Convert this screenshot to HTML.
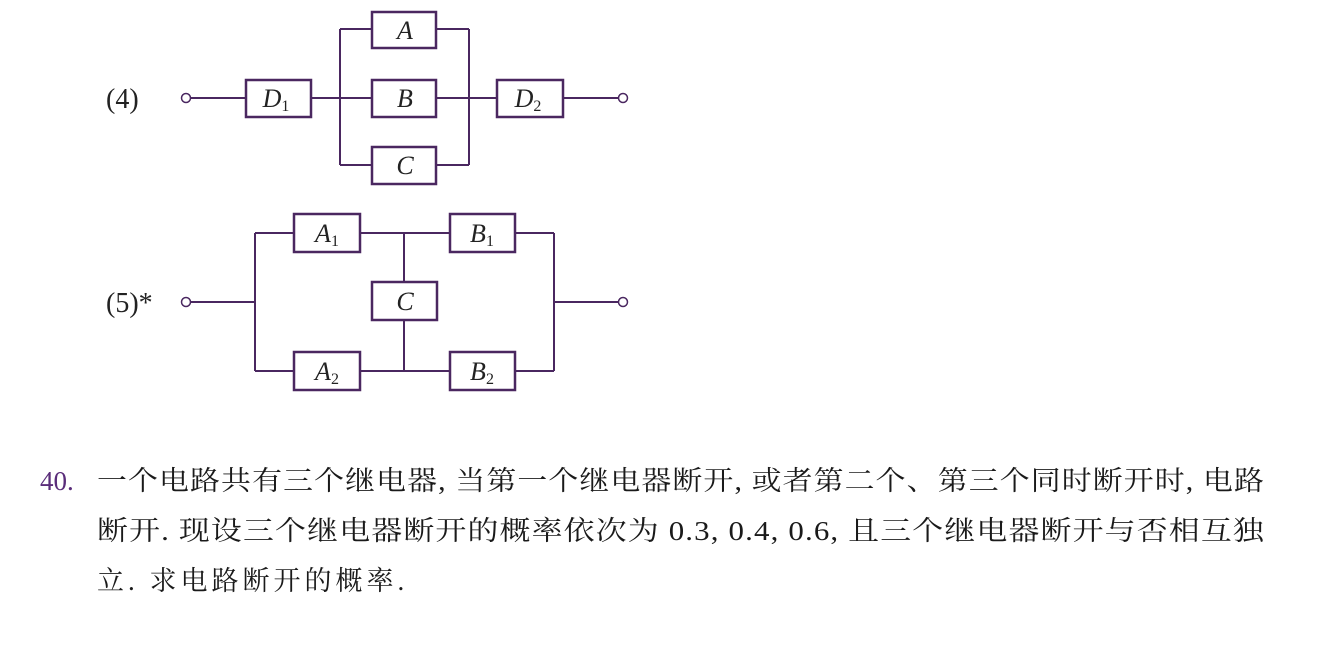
<!DOCTYPE html>
<html><head><meta charset="utf-8"><style>
html,body{margin:0;padding:0;background:#fff;}
svg{display:block;}
</style></head><body>
<svg width="1330" height="646" viewBox="0 0 1330 646" xmlns="http://www.w3.org/2000/svg">
<g stroke="#4a2760" stroke-width="2" fill="none">
<line x1="190" y1="98" x2="246" y2="98"/>
<line x1="311" y1="98" x2="372" y2="98"/>
<line x1="436" y1="98" x2="497" y2="98"/>
<line x1="563" y1="98" x2="619" y2="98"/>
<line x1="340" y1="29" x2="340" y2="165"/>
<line x1="469" y1="29" x2="469" y2="165"/>
<line x1="340" y1="29" x2="372" y2="29"/>
<line x1="436" y1="29" x2="469" y2="29"/>
<line x1="340" y1="165" x2="372" y2="165"/>
<line x1="436" y1="165" x2="469" y2="165"/>
<rect x="246" y="80" width="65" height="37" stroke-width="2.5" fill="#fff"/>
<rect x="372" y="12" width="64" height="36" stroke-width="2.5" fill="#fff"/>
<rect x="372" y="80" width="64" height="37" stroke-width="2.5" fill="#fff"/>
<rect x="372" y="147" width="64" height="37" stroke-width="2.5" fill="#fff"/>
<rect x="497" y="80" width="66" height="37" stroke-width="2.5" fill="#fff"/>
<circle cx="186" cy="98" r="4.5" fill="#fff" stroke-width="1.5"/>
<circle cx="623" cy="98" r="4.5" fill="#fff" stroke-width="1.5"/>
<line x1="190" y1="302" x2="255" y2="302"/>
<line x1="255" y1="233" x2="255" y2="371"/>
<line x1="255" y1="233" x2="294" y2="233"/>
<line x1="255" y1="371" x2="294" y2="371"/>
<line x1="360" y1="233" x2="450" y2="233"/>
<line x1="360" y1="371" x2="450" y2="371"/>
<line x1="404" y1="233" x2="404" y2="371"/>
<line x1="515" y1="233" x2="554" y2="233"/>
<line x1="515" y1="371" x2="554" y2="371"/>
<line x1="554" y1="233" x2="554" y2="371"/>
<line x1="554" y1="302" x2="619" y2="302"/>
<rect x="294" y="214" width="66" height="38" stroke-width="2.5" fill="#fff"/>
<rect x="450" y="214" width="65" height="38" stroke-width="2.5" fill="#fff"/>
<rect x="372" y="282" width="65" height="38" stroke-width="2.5" fill="#fff"/>
<rect x="294" y="352" width="66" height="38" stroke-width="2.5" fill="#fff"/>
<rect x="450" y="352" width="65" height="38" stroke-width="2.5" fill="#fff"/>
<circle cx="186" cy="302" r="4.5" fill="#fff" stroke-width="1.5"/>
<circle cx="623" cy="302" r="4.5" fill="#fff" stroke-width="1.5"/>
</g>
<g font-family="Liberation Serif, serif" font-size="28" fill="#222">
<text x="106" y="108">(4)</text>
<text x="106" y="312">(5)*</text>
<g font-style="italic" text-anchor="middle" font-size="26">
<text x="276" y="107">D<tspan font-size="16" font-style="normal" dy="4">1</tspan></text>
<text x="405" y="39">A</text>
<text x="405" y="107">B</text>
<text x="405" y="174">C</text>
<text x="528" y="107">D<tspan font-size="16" font-style="normal" dy="4">2</tspan></text>
<text x="327" y="242">A<tspan font-size="16" font-style="normal" dy="4">1</tspan></text>
<text x="482" y="242">B<tspan font-size="16" font-style="normal" dy="4">1</tspan></text>
<text x="405" y="310">C</text>
<text x="327" y="380">A<tspan font-size="16" font-style="normal" dy="4">2</tspan></text>
<text x="482" y="380">B<tspan font-size="16" font-style="normal" dy="4">2</tspan></text>
</g>
</g>
<g font-family="Liberation Serif, 'Noto Serif CJK SC', 'Noto Sans CJK SC', serif" font-size="27" fill="#1a1a1a">
<text x="40" y="490" fill="#5a2d7a">40.</text>
<text x="97" y="490" letter-spacing="1" textLength="1168" lengthAdjust="spacingAndGlyphs">一个电路共有三个继电器, 当第一个继电器断开, 或者第二个、第三个同时断开时, 电路</text>
<text x="97" y="540" letter-spacing="1" textLength="1168" lengthAdjust="spacingAndGlyphs">断开. 现设三个继电器断开的概率依次为 0.3, 0.4, 0.6, 且三个继电器断开与否相互独</text>
<text x="97" y="590" letter-spacing="4">立. 求电路断开的概率.</text>
</g>
</svg>
</body></html>
